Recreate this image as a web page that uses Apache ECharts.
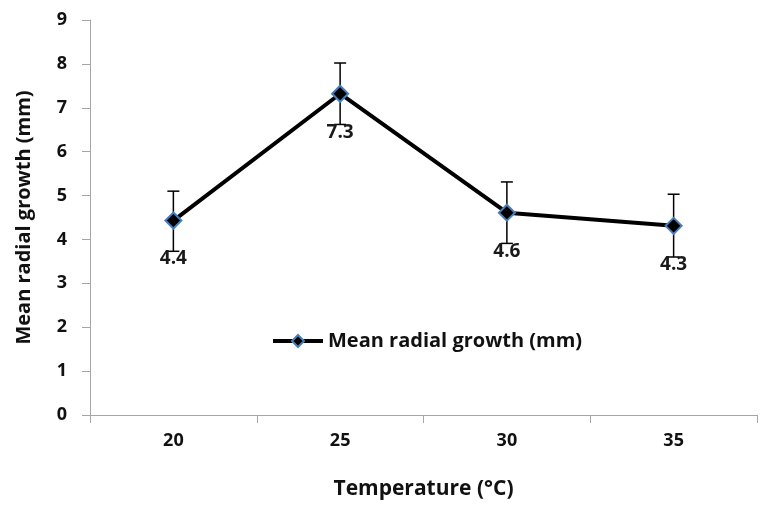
<!DOCTYPE html>
<html>
<head>
<meta charset="utf-8">
<script src="https://cdn.jsdelivr.net/npm/echarts@6/dist/echarts.min.js"></script>
<style>
  html, body { margin: 0; padding: 0; background: #fff; }
  #main { width: 763px; height: 505px; }
</style>
</head>
<body>
<div id="main"></div>
<script>
// 数据
const temps = ['20', '25', '30', '35'];
const growth = [4.43, 7.32, 4.61, 4.31];
const errLow = [3.73, 6.62, 3.91, 3.6];
const errHigh = [5.1, 8.02, 5.31, 5.03];
const labels = ['4.4', '7.3', '4.6', '4.3'];

const font = '"Open Sans", sans-serif';
const chart = echarts.init(document.getElementById('main'));

chart.setOption({
  animation: false,
  textStyle: { fontFamily: font },
  grid: { left: 90, right: 6, top: 20, bottom: 90 },
  legend: {
    left: 266,
    top: 326,
    itemWidth: 50,
    itemHeight: 15,
    itemGap: 4,
    lineStyle: { width: 4, color: '#000' },
    textStyle: { fontSize: 20, fontWeight: 'bold', color: '#111', fontFamily: font },
    data: ['Mean radial growth (mm)']
  },
  xAxis: {
    type: 'category',
    data: temps,
    boundaryGap: true,
    name: 'Temperature (°C)',
    nameLocation: 'middle',
    nameGap: 64,
    nameTextStyle: { fontSize: 21, fontWeight: 'bold', color: '#111' },
    axisLine: { lineStyle: { color: '#a6a6a6', width: 1 } },
    axisTick: { show: true, length: 8, lineStyle: { color: '#a6a6a6' } },
    axisLabel: { fontSize: 18, fontWeight: 'bold', color: '#111', margin: 17 },
    splitLine: { show: false }
  },
  yAxis: {
    type: 'value',
    min: 0,
    max: 9,
    interval: 1,
    name: 'Mean radial growth (mm)',
    nameLocation: 'middle',
    nameGap: 56,
    nameTextStyle: { fontSize: 20, fontWeight: 'bold', color: '#111' },
    axisLine: { show: true, lineStyle: { color: '#a6a6a6', width: 1 } },
    axisTick: { show: true, length: 8, lineStyle: { color: '#a6a6a6' } },
    axisLabel: { fontSize: 18, fontWeight: 'bold', color: '#111', margin: 23 },
    splitLine: { show: false }
  },
  series: [
    {
      name: 'errorbars',
      type: 'custom',
      z: 1,
      data: temps.map((t, i) => [i, errLow[i], errHigh[i]]),
      renderItem: function (params, api) {
        const x = api.value(0);
        const lo = api.coord([x, api.value(1)]);
        const hi = api.coord([x, api.value(2)]);
        const cap = 6;
        const style = { stroke: '#000', lineWidth: 1.5 };
        return {
          type: 'group',
          children: [
            { type: 'line', shape: { x1: hi[0], y1: hi[1], x2: lo[0], y2: lo[1] }, style: style },
            { type: 'line', shape: { x1: hi[0] - cap, y1: hi[1], x2: hi[0] + cap, y2: hi[1] }, style: style },
            { type: 'line', shape: { x1: lo[0] - cap, y1: lo[1], x2: lo[0] + cap, y2: lo[1] }, style: style }
          ]
        };
      }
    },
    {
      name: 'Mean radial growth (mm)',
      type: 'line',
      z: 3,
      data: growth,
      symbol: 'diamond',
      symbolSize: 16,
      lineStyle: { color: '#000', width: 4 },
      itemStyle: { color: '#000', borderColor: '#4a7ebb', borderWidth: 2 },
      label: {
        show: true,
        position: 'bottom',
        distance: 20,
        fontSize: 19,
        fontWeight: 'bold',
        color: '#1a1a1a',
        formatter: function (p) { return labels[p.dataIndex]; }
      }
    }
  ]
});
</script>
</body>
</html>
